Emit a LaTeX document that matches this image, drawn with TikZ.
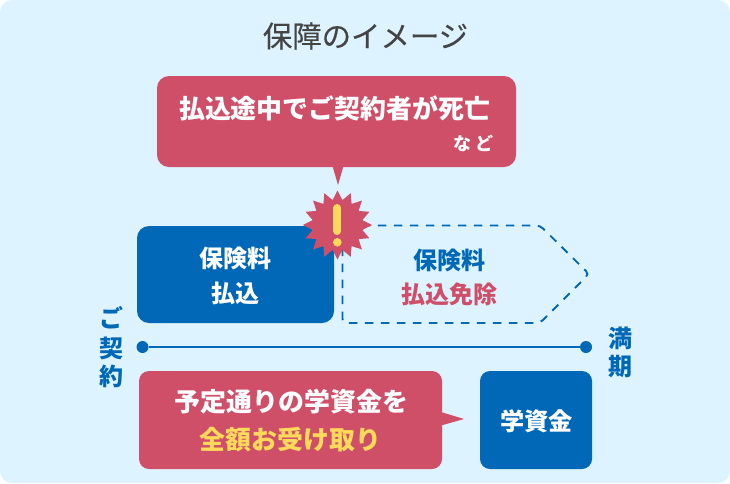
\documentclass[tikz,border=0pt]{standalone}
\usepackage{fontspec}
\setmainfont{Noto Sans CJK JP}
\usetikzlibrary{shapes.geometric}
\definecolor{bgc}{HTML}{DDF3FF}
\definecolor{pinkc}{HTML}{CF4F68}
\definecolor{bluec}{HTML}{0068B7}
\definecolor{yelc}{HTML}{FFD95A}
\definecolor{titc}{HTML}{444444}
\tikzset{
  x=1pt,y=-1pt,
  box/.style={rounded corners=12pt,draw=none},
  pinkbox/.style={box,fill=pinkc},
  bluebox/.style={box,fill=bluec},
  lab/.style={inner sep=0pt,font=\bfseries\fontsize{#1}{#1}\selectfont},
  lab/.default=24,
  dot/.style={circle,fill=bluec,inner sep=0pt,minimum size=12pt},
}
\begin{document}
\begin{tikzpicture}
\useasboundingbox (0,0) rectangle (730,483);
\fill[bgc,rounded corners=12pt] (0,0) rectangle (730,483);
\node[inner sep=0pt,text=titc,font=\fontsize{29.4}{29.4}\selectfont\addfontfeature{FakeBold=0.25}] (title) at (365.5,36) {保障のイメージ};
% top callout
\fill[pinkbox] (157,76) rectangle (516,167);
\fill[pinkc] (332.5,166) -- (338,185) -- (343.5,166) -- cycle;
\node[lab=25.9,text=white] (t1) at (334.5,108) {払込途中でご契約者が死亡};
\node[lab=18,text=white] (t2) at (473.5,143) {な\hspace{5pt}ど};
% blue box
\fill[bluebox] (137,226) rectangle (334,323);
\node[lab=24,text=white] (a1) at (235,258) {保険料};
\node[lab=24,text=white] (a2) at (235,293) {払込};
% dashed arrow
\draw[bluec,line width=1.9pt,dash pattern=on 8.5pt off 7.5pt,rounded corners=4pt]
  (342.5,320) -- (342.5,225.5) -- (540,225.5) -- (589,274) -- (540,323) -- (342.5,323) -- (342.5,316);
\node[lab=24,text=bluec] (b1) at (449,260) {保険料};
\node[lab=24,text=pinkc] (b2) at (449,294) {払込免除};
% burst
\node[star,star points=16,star point ratio=1.36,fill=pinkc,inner sep=0pt,minimum size=69pt,draw=none] (burst) at (337.5,225) {};
\draw[yelc,line width=8pt,line cap=round] (337.3,208) -- (337.3,231);
\fill[yelc] (337.3,242.3) circle (4.3);
% timeline
\node[dot] (d1) at (142.5,347) {};
\node[dot] (d2) at (586,347) {};
\draw[bluec,line width=2.2pt] (d1) -- (d2);
\node[lab=24,text=bluec] (s1) at (111.5,318) {ご};
\node[lab=24,text=bluec] (s2) at (111.5,348) {契};
\node[lab=24,text=bluec] (s3) at (111.5,376) {約};
\node[lab=24,text=bluec] (e1) at (620,338) {満};
\node[lab=24,text=bluec] (e2) at (620,367) {期};
% bottom
\fill[pinkbox,rounded corners=10pt] (139,371) rectangle (442,469);
\fill[pinkc] (441,412) -- (464,419) -- (441,425.5) -- cycle;
\node[lab=25.9,text=white] (c1) at (291.5,402) {予定通りの学資金を};
\node[lab=25.9,text=yelc] (c2) at (290.5,440) {全額お受け取り};
\fill[bluebox,rounded corners=10pt] (480,371) rectangle (592,469);
\node[lab=24.2,text=white] (c3) at (536.5,421) {学資金};
\end{tikzpicture}
\end{document}
